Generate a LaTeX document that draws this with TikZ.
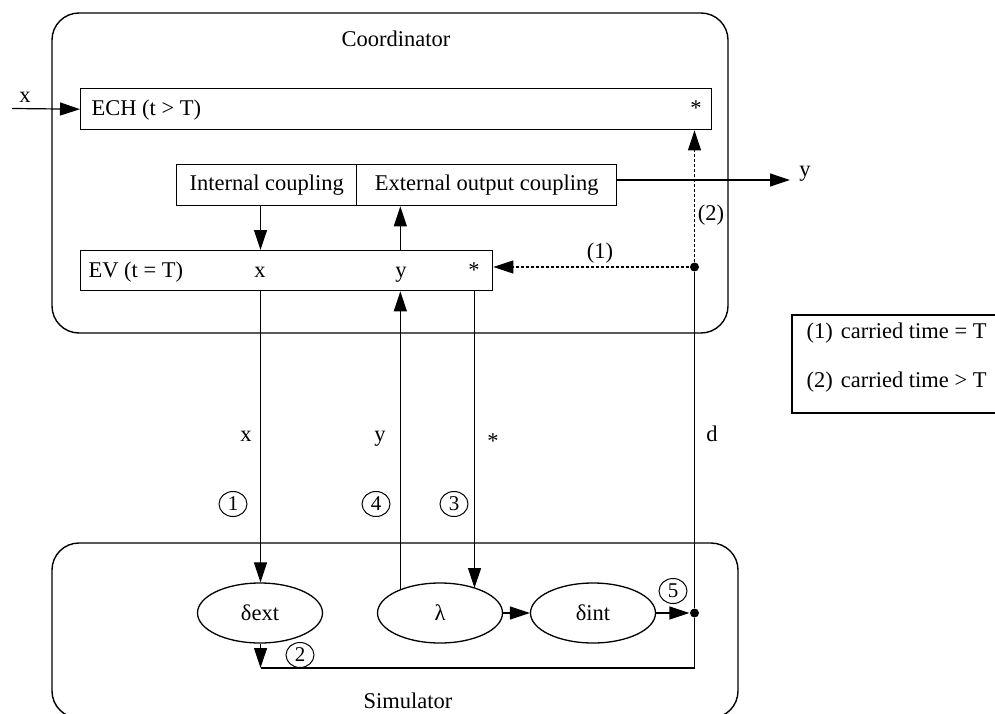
\documentclass[tikz,border=0pt]{standalone}
\usepackage{fontspec}
\setmainfont{Liberation Serif}
\usetikzlibrary{arrows.meta,shapes.geometric}
\begin{document}
\begin{tikzpicture}[x=1pt,y=-1pt,
  font=\fontsize{22.5}{26}\selectfont,
  line width=1.2pt,
  every node/.style={inner sep=0pt},
  frame/.style={draw, rounded corners=27pt, line width=1.4pt},
  rbox/.style={draw, line width=1.4pt, anchor=north west, minimum height=41pt},
  oval/.style={draw, ellipse, minimum width=125pt, minimum height=60pt, line width=1.3pt},
  cnum/.style={draw, ellipse, minimum width=28pt, minimum height=25pt, line width=1pt, font=\fontsize{21}{24}\selectfont},
  tri/.style={-{Triangle[length=20pt,width=13pt]}},
  dots/.style={dash pattern=on 3pt off 2pt, line width=1.1pt},
  txt/.style={anchor=base},
  joint/.style={circle, fill, minimum size=9pt},
]
\useasboundingbox (0,0) rectangle (995,714);
\clip (0,0) rectangle (995,714);

% outer frames
\draw[frame] (52,13) rectangle (728,333);
\draw[frame] (52,543) rectangle (738,718);
\node[txt] (coordlbl) at (396,47) {Coordinator};
\node[txt] (simlbl) at (408,708) {Simulator};

% coordinator blocks
\node[rbox, minimum width=631pt] (ech) at (80,88) {};
\node[txt, anchor=base west] (echtxt) at (91,116) {ECH (t > T)};
\node[txt] (echstar) at (696,116) {*};

\node[rbox, minimum width=180pt] (int) at (176,164) {Internal coupling};
\node[rbox, minimum width=260pt] (ext) at (356,164) {External output coupling};

\node[rbox, minimum width=412pt, minimum height=40pt] (ev) at (80,250) {};
\node[txt, anchor=base west] (evtxt) at (88,277) {EV (t = T)};
\node[txt] (evx) at (260,277) {x};
\node[txt] (evy) at (401,277) {y};
\node[txt] (evs) at (474,277) {*};

% simulator functions
\node[oval] (dext) at (260,613) {δext};
\node[oval] (lam) at (440,613) {λ};
\node[oval] (dint) at (593,613) {δint};

% joints
\node[joint] (dtop) at (694.5,267) {};
\node[joint] (dbot) at (694.5,613) {};

% helper points
\coordinate (xin) at (12,108.5);
\coordinate (eoc) at (616,180);
\coordinate (yout) at (790,180);
\coordinate (xcol) at (260.5,0);
\coordinate (scol) at (474.5,0);
\coordinate (corner) at (260.5,668);
\path (lam.149) coordinate (lamup);

% input and output of the coordinator
\draw[tri] (xin) -- (ech.west);
\node[txt] (xinlbl) at (25,103) {x};
\draw[tri] (eoc) -- (yout);
\node[txt] (youtlbl) at (805,177) {y};

% couplings
\draw[tri] (int.south -| xcol) -- (ev.north -| xcol);
\draw[tri] (ev.north -| lamup) -- (ext.south -| lamup);

% carried time branches
\draw[dots, tri] (dtop) -- (ev.east |- dtop);
\draw[dots, tri] (dtop) -- (ech.south -| dtop);
\node (lbl1) at (600,253) {(1)};
\node (lbl2) at (711,215) {(2)};

% messages between coordinator and simulator
\draw[tri] (ev.south -| xcol) -- (dext.north -| xcol);
\draw[tri] (lamup) -- (lamup |- ev.south);
\draw[tri] (ev.south -| scol) -- (scol |- 0,588);
\node[txt] (mx) at (246,441) {x};
\node[txt] (my) at (380,441) {y};
\node[txt] (ms) at (493,448) {*};
\node[txt] (md) at (712,441) {d};

\node[cnum] (n1) at (233,504) {1};
\node[cnum] (n4) at (376,504) {4};
\node[cnum] (n3) at (454,504) {3};

% inside the simulator
\draw[tri] (lam.east) -- (dint.west);
\draw[tri] (dint.east) -- (dbot);
\draw (dtop) -- (dbot);
\draw (dbot) |- (corner);
\draw[tri] (dext.south -| corner) -- (corner);
\node[cnum] (n5) at (673,591) {5};
\node[cnum] (n2) at (300,655) {2};

% legend
\draw[line width=1.3pt] (792,315) rectangle (1000,413);
\node[txt, anchor=base west] (leg1) at (806,338) {(1)\hspace{8pt}carried time = T};
\node[txt, anchor=base west] (leg2) at (806,387) {(2)\hspace{8pt}carried time > T};
\end{tikzpicture}
\end{document}
